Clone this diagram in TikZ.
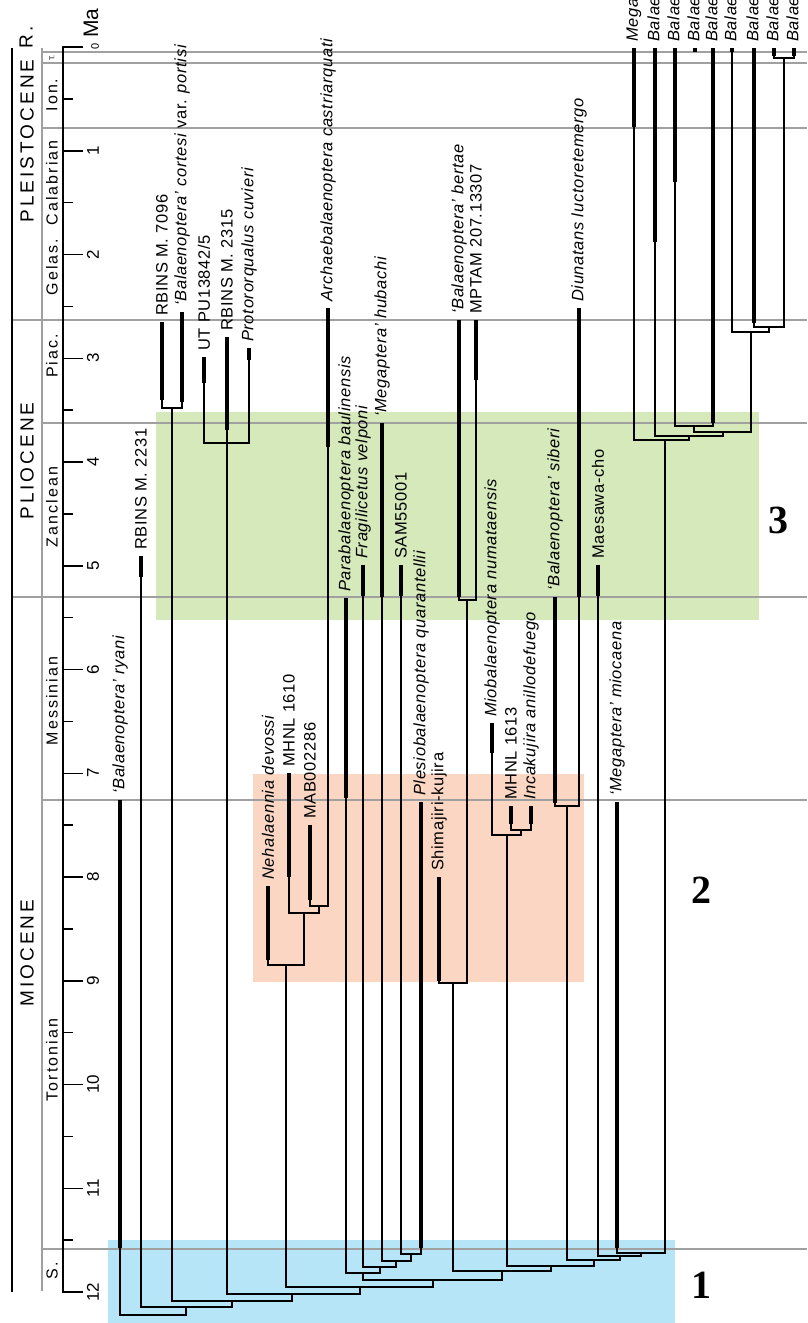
\documentclass[tikz,border=0pt]{standalone}
\usepackage{fontspec}
\setmainfont{Liberation Sans}
\newfontfamily\labfont[LetterSpace=4]{Liberation Sans}
\newfontfamily\stgfont[LetterSpace=13]{Liberation Sans}
\newfontfamily\epfont[LetterSpace=16]{Liberation Sans}
\newfontfamily\bigfont{Liberation Serif}
\definecolor{greenbox}{RGB}{214,233,187}
\definecolor{orangebox}{RGB}{251,214,194}
\definecolor{bluebox}{RGB}{182,229,248}
\definecolor{glc}{RGB}{160,160,160}
\newcommand\tip[5]{%
  \coordinate (#1) at (#2,#3);
  \coordinate (#1b) at (#2,#4);
  \node[lab] (#1l) at (#2,#3-6) {#5};
}
\begin{document}
\begin{tikzpicture}[x=1pt,y=-1pt,
  branch/.style={line width=1.1pt},
  bar/.style={line width=4pt},
  gl/.style={line width=1.4pt, color=glc},
  axisline/.style={line width=1.5pt},
  lab/.style={rotate=90, anchor=west, inner sep=0pt, font={\labfont\fontsize{16.5}{18}\selectfont}},
  num/.style={rotate=90, inner sep=0pt, font={\fontsize{17}{18}\selectfont}},
  stg/.style={rotate=90, inner sep=0pt, font={\stgfont\fontsize{16}{18}\selectfont}},
  ep/.style={rotate=90, inner sep=0pt, font={\epfont\fontsize{19}{20}\selectfont}},
  big/.style={inner sep=0pt, font={\bigfont\bfseries\fontsize{40}{40}\selectfont}},
]
\useasboundingbox (0,0) rectangle (807,1323);
\clip (0,0) rectangle (807,1323);

% coloured boxes
\fill[greenbox] (156,412) rectangle (759,620);
\fill[orangebox] (253,774) rectangle (584,982);
\fill[bluebox] (108,1240) rectangle (675,1323);

% stage / epoch boundary lines
\foreach \yy in {52,63,128,423,800,1249} \draw[gl] (42,\yy) -- (807,\yy);
\foreach \yy in {320,597} \draw[gl] (12,\yy) -- (807,\yy);
\draw[gl] (42,48) -- (42,1291);
\draw[axisline] (12,48) -- (12,1292);

% time axis
\draw[axisline] (83,47) -- (63,47) -- (63,1292) -- (83,1292);
\foreach \i in {1,...,11} \draw[axisline] (63,{47+103.75*\i}) -- (83,{47+103.75*\i});
\foreach \i in {0,...,11} \draw[axisline] (63,{47+103.75*(\i+0.5)}) -- (73,{47+103.75*(\i+0.5)});
\foreach \i in {1,...,12} \node[num] (tick\i) at (93,{47+103.75*\i}) {\i};
\node[rotate=90, inner sep=0pt, font={\fontsize{11}{12}\selectfont}] (tick0) at (95,46) {0};
\node[rotate=90, anchor=west, inner sep=0pt, font={\fontsize{21}{22}\selectfont}] (ma) at (91,38) {Ma};

% epochs
\node[ep] (epR) at (26,37) {R.};
\node[ep] (epPle) at (27,141) {PLEISTOCENE};
\node[ep] (epPli) at (27,461) {PLIOCENE};
\node[ep] (epMio) at (27,953) {MIOCENE};
% stages
\node[rotate=90, inner sep=0pt, font={\fontsize{7}{8}\selectfont}] (stT) at (52,58) {T.};
\node[stg] (stIon) at (52,95) {Ion.};
\node[stg] (stCal) at (52,183) {Calabrian};
\node[stg] (stGel) at (52,267) {Gelas.};
\node[stg] (stPia) at (52,356) {Piac.};
\node[stg] (stZan) at (52,507) {Zanclean};
\node[stg] (stMes) at (52,701) {Messinian};
\node[stg] (stTor) at (52,1060) {Tortonian};
\node[stg] (stSer) at (52,1271) {S.};

% big numbers
\node[big] (g3) at (778,520) {3};
\node[big] (g2) at (701,890) {2};
\node[big] (g1) at (701,1285) {1};

% ---- tips ----
\tip{ryani}{120}{800}{1248}{\itshape ‘Balaenoptera’ ryani}
\tip{rb2231}{141}{556}{577}{RBINS M. 2231}
\tip{rb7096}{162}{322}{400}{RBINS M. 7096}
\tip{cortesi}{182}{312}{402}{\itshape ‘Balaenoptera’ cortesi \upshape var. \itshape portisi}
\tip{utpu}{204}{357}{383}{UT PU13842/5}
\tip{rb2315}{227}{337}{430}{RBINS M. 2315}
\tip{proto}{249}{348}{360}{\itshape Protororqualus cuvieri}
\tip{neha}{268}{886}{960}{\itshape Nehalaennia devossi}
\tip{mh1610}{289}{773}{877}{MHNL 1610}
\tip{mab}{310}{825}{900}{MAB002286}
\tip{archae}{328}{308}{447}{\itshape Archaebalaenoptera castriarquati}
\tip{para}{346}{598}{798}{\itshape Parabalaenoptera baulinensis}
\tip{frag}{363}{565}{596}{\itshape Fragilicetus velponi}
\tip{hubachi}{382}{423}{597}{\itshape ‘Megaptera’ hubachi}
\tip{sam}{401}{565}{596}{SAM55001}
\tip{plesio}{421}{802}{1248}{\itshape Plesiobalaenoptera quarantellii}
\tip{shima}{439}{877}{981}{Shimajiri-kujira}
\tip{bertae}{459}{320}{597}{\itshape ‘Balaenoptera’ bertae}
\tip{mptam}{476}{320}{380}{MPTAM 207.13307}
\tip{mio}{492}{723}{753}{\itshape Miobalaenoptera numataensis}
\tip{mh1613}{511}{806}{824}{MHNL 1613}
\tip{inca}{531}{806}{824}{\itshape Incakujira anillodefuego}
\tip{siberi}{555}{597}{803}{\itshape ‘Balaenoptera’ siberi}
\tip{diun}{579}{308}{597}{\itshape Diunatans luctoretemergo}
\tip{maes}{598}{565}{596}{Maesawa-cho}
\tip{mioc}{617}{802}{1248}{\itshape ‘Megaptera’ miocaena}
\tip{mega}{634}{48}{127}{\itshape Megaptera}
\tip{ba1}{655}{48}{242}{\itshape Balaenoptera}
\tip{ba2}{675}{48}{182}{\itshape Balaenoptera}
\tip{ba3}{695}{48}{52}{\itshape Balaenoptera}
\tip{ba4}{713}{48}{423}{\itshape Balaenoptera}
\tip{ba5}{732}{48}{52}{\itshape Balaenoptera}
\tip{ba6}{754}{48}{323}{\itshape Balaenoptera}
\tip{ba7}{774}{48}{56}{\itshape Balaenoptera}
\tip{ba8}{794}{48}{56}{\itshape Balaenoptera}

% ---- internal nodes ----
\coordinate (n78) at (784,58);
\coordinate (n678) at (769,327);
\coordinate (n5678) at (751,332);
\coordinate (nA) at (694,426);
\coordinate (nB) at (723,432);
\coordinate (nC) at (689,436);
\coordinate (nD) at (665,440);
\coordinate (n7096) at (172,408);
\coordinate (nUP) at (227,443);
\coordinate (nMA) at (319,906);
\coordinate (nM16) at (304,913);
\coordinate (nNeh) at (286,965);
\coordinate (nBM) at (467,600);
\coordinate (nShi) at (453,983);
\coordinate (nIM) at (521,830);
\coordinate (nMio) at (507,835);
\coordinate (nSD) at (567,806);
\coordinate (nE1) at (641,1253);
\coordinate (nE2) at (620,1256);
\coordinate (nE3) at (594,1260);
\coordinate (nE4) at (551,1266);
\coordinate (nE5) at (502,1271);
\coordinate (nW1) at (411,1254);
\coordinate (nW2) at (396,1261);
\coordinate (nW3) at (380,1267);
\coordinate (nW4) at (363,1273);
\coordinate (nM1) at (433,1280);
\coordinate (nM2) at (360,1287);
\coordinate (nM3) at (292,1294);
\coordinate (nM4) at (232,1301);
\coordinate (nM5) at (186,1307);
\coordinate (root) at (153,1315);

% ---- branches ----
\draw[branch] (ba7) |- (n78); \draw[branch] (ba8) |- (n78);
\draw[branch] (ba6) |- (n678); \draw[branch] (n78) |- (n678);
\draw[branch] (ba5) |- (n5678); \draw[branch] (n678) |- (n5678);
\draw[branch] (ba2) |- (nA); \draw[branch] (ba4) |- (nA);
\draw[branch] (nA) |- (nB); \draw[branch] (n5678) |- (nB);
\draw[branch] (ba1) |- (nC); \draw[branch] (nB) |- (nC);
\draw[branch] (mega) |- (nD); \draw[branch] (nC) |- (nD);
\draw[branch] (rb7096) |- (n7096); \draw[branch] (cortesi) |- (n7096);
\draw[branch] (utpu) |- (nUP); \draw[branch] (proto) |- (nUP);
\draw[branch] (rb2315) -- (nUP);
\draw[branch] (mab) |- (nMA); \draw[branch] (archae) |- (nMA);
\draw[branch] (mh1610) |- (nM16); \draw[branch] (nMA) |- (nM16);
\draw[branch] (neha) |- (nNeh); \draw[branch] (nM16) |- (nNeh);
\draw[branch] (bertae) |- (nBM); \draw[branch] (mptam) |- (nBM);
\draw[branch] (shima) |- (nShi); \draw[branch] (nBM) |- (nShi);
\draw[branch] (mh1613) |- (nIM); \draw[branch] (inca) |- (nIM);
\draw[branch] (mio) |- (nMio); \draw[branch] (nIM) |- (nMio);
\draw[branch] (siberi) |- (nSD); \draw[branch] (diun) |- (nSD);
\draw[branch] (mioc) |- (nE1); \draw[branch] (nD) |- (nE1);
\draw[branch] (maes) |- (nE2); \draw[branch] (nE1) |- (nE2);
\draw[branch] (nSD) |- (nE3); \draw[branch] (nE2) |- (nE3);
\draw[branch] (nMio) |- (nE4); \draw[branch] (nE3) |- (nE4);
\draw[branch] (nShi) |- (nE5); \draw[branch] (nE4) |- (nE5);
\draw[branch] (sam) |- (nW1); \draw[branch] (plesio) |- (nW1);
\draw[branch] (hubachi) |- (nW2); \draw[branch] (nW1) |- (nW2);
\draw[branch] (frag) |- (nW3); \draw[branch] (nW2) |- (nW3);
\draw[branch] (para) |- (nW4); \draw[branch] (nW3) |- (nW4);
\draw[branch] (nW4) |- (nM1); \draw[branch] (nE5) |- (nM1);
\draw[branch] (nNeh) |- (nM2); \draw[branch] (nM1) |- (nM2);
\draw[branch] (nUP) |- (nM3); \draw[branch] (nM2) |- (nM3);
\draw[branch] (n7096) |- (nM4); \draw[branch] (nM3) |- (nM4);
\draw[branch] (rb2231) |- (nM5); \draw[branch] (nM4) |- (nM5);
\draw[branch] (ryani) |- (root); \draw[branch] (nM5) |- (root);

% ---- stratigraphic range bars ----
\foreach \t in {ryani,rb2231,rb7096,cortesi,utpu,rb2315,proto,neha,mh1610,mab,archae,para,frag,hubachi,sam,plesio,shima,bertae,mptam,mio,mh1613,inca,siberi,diun,maes,mioc,mega,ba1,ba2,ba3,ba4,ba5,ba6,ba7,ba8}
  \draw[bar] (\t) -- (\t b);
\end{tikzpicture}
\end{document}
